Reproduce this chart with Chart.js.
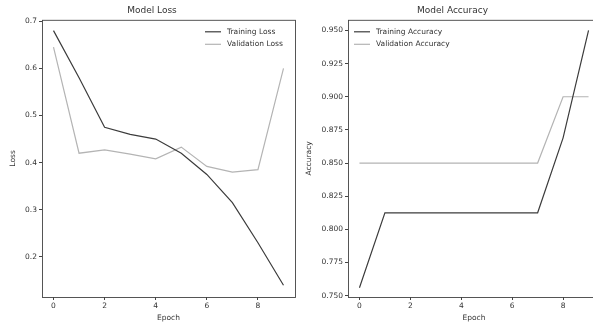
<!DOCTYPE html>
<html>
<head>
<meta charset="utf-8">
<script src="https://cdn.jsdelivr.net/npm/chart.js@4.4.1/dist/chart.umd.min.js"></script>
<style>
    html, body { margin: 0; padding: 0; background: #fff; overflow: hidden; }
    body { width: 593px; height: 327px; position: relative; }
    .box { position: absolute; top: 0; height: 327px; }
    #lossBox { left: 0; width: 300px; }
    #accBox { left: 300px; width: 305px; }
</style>
</head>
<body>
<div id="lossBox" class="box"><canvas id="lossChart"></canvas></div>
<div id="accBox" class="box"><canvas id="accChart"></canvas></div>
<script>
// epochs and per-epoch values
const epochs = [0, 1, 2, 3, 4, 5, 6, 7, 8, 9];
const trainLoss = [0.68, 0.58, 0.475, 0.46, 0.45, 0.42, 0.375, 0.315, 0.23, 0.14];
const valLoss = [0.645, 0.42, 0.427, 0.418, 0.408, 0.433, 0.392, 0.38, 0.385, 0.60];
const trainAcc = [0.756, 0.8125, 0.8125, 0.8125, 0.8125, 0.8125, 0.8125, 0.8125, 0.869, 0.95];
const valAcc = [0.85, 0.85, 0.85, 0.85, 0.85, 0.85, 0.85, 0.85, 0.90, 0.90];

// tick labels
const epochTicks = [0, 2, 4, 6, 8];
const lossTicks = [0.2, 0.3, 0.4, 0.5, 0.6, 0.7];
const accTicks = [0.75, 0.775, 0.8, 0.825, 0.85, 0.875, 0.9, 0.925, 0.95];

const FONT = 'DejaVu Sans';
const DARK = '#3c3c3c';
const LIGHT = '#b4b4b4';
const TEXT = '#333';

// frame around the plot area + legend inside it
const framePlugin = {
    id: 'frame',
    afterDraw(chart, args, opts) {
        const { ctx, chartArea: a } = chart;
        ctx.save();
        ctx.strokeStyle = '#444';
        ctx.lineWidth = 0.9;
        ctx.strokeRect(a.left + 0.5, a.top + 0.5, a.right - a.left, a.bottom - a.top);

        // legend
        ctx.font = '7.5px ' + FONT;
        ctx.textBaseline = 'middle';
        ctx.fillStyle = TEXT;
        const x0 = opts.align === 'right' ? a.right - opts.width : a.left + 6;
        chart.data.datasets.forEach((ds, i) => {
            const y = a.top + 12 + i * 12.5;
            ctx.strokeStyle = ds.borderColor;
            ctx.lineWidth = 1.2;
            ctx.beginPath();
            ctx.moveTo(x0, y);
            ctx.lineTo(x0 + 16, y);
            ctx.stroke();
            ctx.fillText(ds.label, x0 + 22, y);
        });
        ctx.restore();
    }
};

function makeChart(id, title, yTitle, yTicks, yMin, yMax, series, labels, legendAlign, padLeft, yAxisWidth, fmt) {
    const ctx = document.getElementById(id).getContext('2d');
    return new Chart(ctx, {
        type: 'line',
        data: {
            datasets: [
                {
                    label: labels[0],
                    data: epochs.map((e, i) => ({ x: e, y: series[0][i] })),
                    borderColor: DARK,
                    borderWidth: 1.2,
                    pointRadius: 0,
                    tension: 0
                },
                {
                    label: labels[1],
                    data: epochs.map((e, i) => ({ x: e, y: series[1][i] })),
                    borderColor: LIGHT,
                    borderWidth: 1.2,
                    pointRadius: 0,
                    tension: 0
                }
            ]
        },
        options: {
            responsive: true,
            maintainAspectRatio: false,
            animation: false,
            layout: { padding: { left: padLeft, right: 5, top: 0, bottom: 4 } },
            plugins: {
                legend: { display: false },
                tooltip: { enabled: false },
                title: {
                    display: true,
                    text: title,
                    color: TEXT,
                    font: { family: FONT, size: 9, weight: 'normal' },
                    padding: { top: 5, bottom: 4 }
                },
                frame: { align: legendAlign, width: 90 }
            },
            scales: {
                x: {
                    type: 'linear',
                    min: -0.45,
                    max: 9.45,
                    afterBuildTicks: s => { s.ticks = epochTicks.map(v => ({ value: v })); },
                    afterFit: s => { s.height = 26; },
                    grid: { drawOnChartArea: false, drawTicks: true, tickLength: 3, color: '#444' },
                    border: { display: false },
                    ticks: { color: TEXT, font: { family: FONT, size: 7.5 }, padding: 2, maxRotation: 0 },
                    title: { display: true, text: 'Epoch', color: TEXT, font: { family: FONT, size: 7.5 }, padding: { top: 1, bottom: 0 } }
                },
                y: {
                    min: yMin,
                    max: yMax,
                    afterBuildTicks: s => { s.ticks = yTicks.map(v => ({ value: v })); },
                    afterFit: s => { s.width = yAxisWidth; },
                    grid: { drawOnChartArea: false, drawTicks: true, tickLength: 3, color: '#444' },
                    border: { display: false },
                    ticks: { color: TEXT, font: { family: FONT, size: 7.5 }, padding: 2, callback: v => fmt(v) },
                    title: { display: true, text: yTitle, color: TEXT, font: { family: FONT, size: 7.5 }, padding: { top: 0, bottom: 2 } }
                }
            }
        },
        plugins: [framePlugin]
    });
}

makeChart('lossChart', 'Model Loss', 'Loss', lossTicks, 0.115, 0.703,
    [trainLoss, valLoss], ['Training Loss', 'Validation Loss'], 'right', 9, 33, v => v.toFixed(1));
makeChart('accChart', 'Model Accuracy', 'Accuracy', accTicks, 0.749, 0.958,
    [trainAcc, valAcc], ['Training Accuracy', 'Validation Accuracy'], 'left', 5, 43, v => v.toFixed(3));
</script>
</body>
</html>
